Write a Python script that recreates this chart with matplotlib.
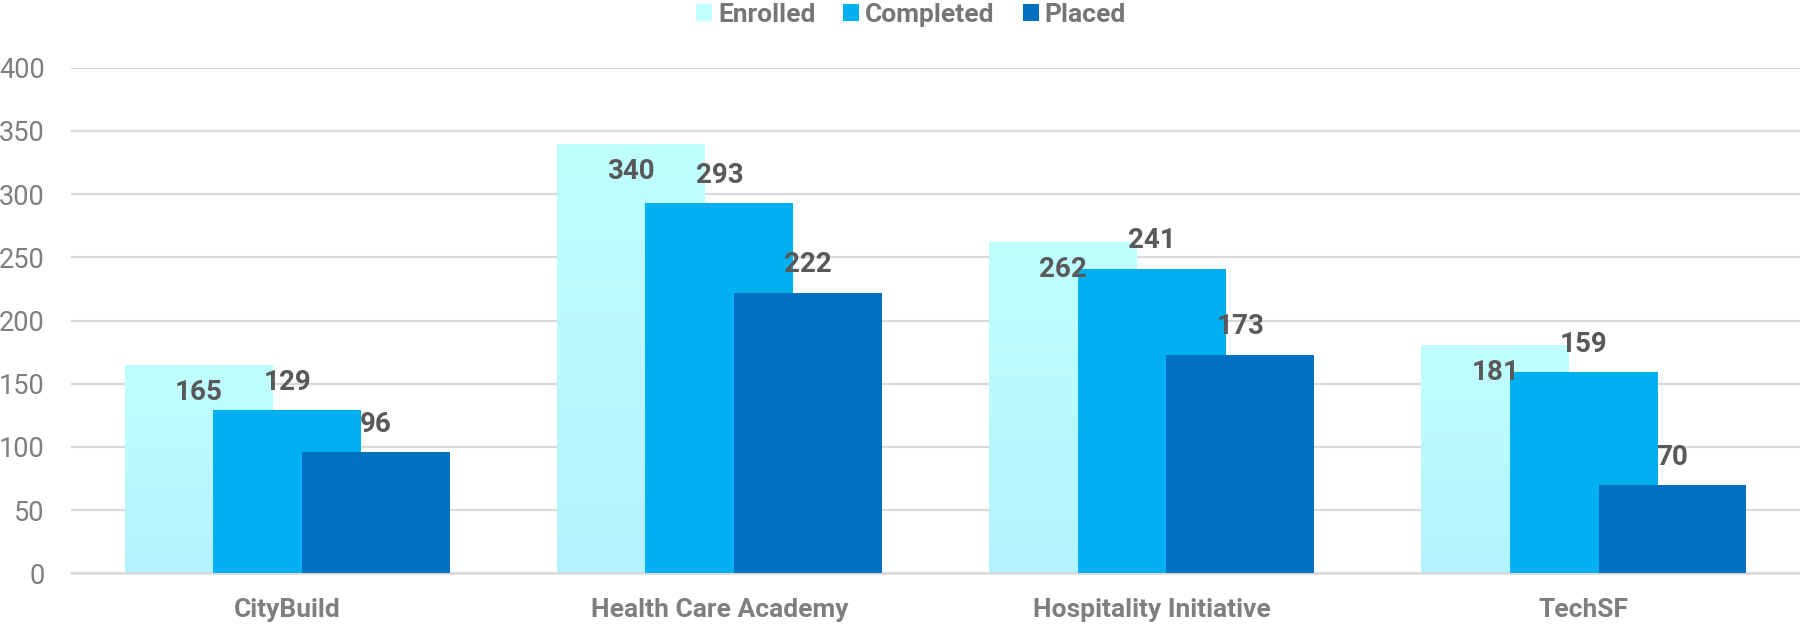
import matplotlib
matplotlib.use("Agg")
import matplotlib.pyplot as plt
import numpy as np
from matplotlib.colors import LinearSegmentedColormap
from matplotlib.patches import Patch

categories = ["CityBuild", "Health Care Academy", "Hospitality Initiative", "TechSF"]
series_names = ["Enrolled", "Completed", "Placed"]
enrolled = [165, 340, 262, 181]
completed = [129, 293, 241, 159]
placed = [96, 222, 173, 70]
y_ticks = [0, 50, 100, 150, 200, 250, 300, 350, 400]

plt.rcParams['font.family'] = ['Roboto', 'DejaVu Sans']

W, H = 1800, 624
fig = plt.figure(figsize=(W / 100, H / 100), dpi=100)
ax = fig.add_axes([71 / W, (H - 573.3) / H, 1 - 71 / W, (573.3 - 67.7) / H])

x = np.arange(len(categories))
bw = 0.342
off = 0.205
col_comp = "#00B0F0"
col_plac = "#0070C0"
col_enr_top = "#C0FFFF"
col_enr_bot = "#B4F2FF"

grad = LinearSegmentedColormap.from_list("g", [col_enr_bot, col_enr_top])

# Enrolled bars with gradient
enr_bars = ax.bar(x - off, enrolled, width=bw, color="none", edgecolor="none", zorder=2)
for b in enr_bars:
    x0, y0 = b.get_x(), b.get_y()
    w, h = b.get_width(), b.get_height()
    img = np.linspace(0, 1, 256).reshape(-1, 1)
    im = ax.imshow(img, cmap=grad, origin="lower", aspect="auto",
                   extent=[x0, x0 + w, y0, y0 + h], zorder=2)
    im.set_clip_path(b)

comp_bars = ax.bar(x, completed, width=bw, color=col_comp, zorder=3)
plac_bars = ax.bar(x + off, placed, width=bw, color=col_plac, zorder=4)

lab_kw = dict(ha="center", va="center", fontsize=20, fontweight="bold",
              color="#595959", zorder=10)
for xi, v in zip(x - off, enrolled):
    ax.annotate(str(v), (xi, v), xytext=(0, -20), textcoords="offset points", **lab_kw)
for xi, v in zip(x, completed):
    ax.annotate(str(v), (xi, v), xytext=(0, 20), textcoords="offset points", **lab_kw)
for xi, v in zip(x + off, placed):
    ax.annotate(str(v), (xi, v), xytext=(0, 20), textcoords="offset points", **lab_kw)

ax.set_xlim(-0.5, len(categories) - 0.5)
ax.set_ylim(0, 400)
ax.set_yticks(y_ticks)
ax.set_yticklabels([str(t) for t in y_ticks])
ax.set_xticks(x)
ax.set_xticklabels(categories, fontsize=19, fontweight="bold", color="#7F7F7F")
ax.tick_params(axis="y", length=0, pad=19, labelsize=19.5, labelcolor="#7F7F7F")
ax.tick_params(axis="x", length=0, pad=17.5)
ax.yaxis.grid(True, color="#D9D9D9", linewidth=1.6, zorder=0)
ax.set_axisbelow(True)
for s in ["top", "right", "left"]:
    ax.spines[s].set_visible(False)
ax.spines["bottom"].set_color("#D9D9D9")
ax.spines["bottom"].set_linewidth(1.8)
ax.patch.set_alpha(0)

handles = [Patch(facecolor=col_enr_top, edgecolor="none"),
           Patch(facecolor=col_comp, edgecolor="none"),
           Patch(facecolor=col_plac, edgecolor="none")]
leg = fig.legend(handles, series_names, loc="center", bbox_to_anchor=(911 / W, 1 - 15 / H),
                 ncol=3, frameon=False, handlelength=0.6, handleheight=0.6,
                 handletextpad=0.23, columnspacing=1.06, borderpad=0, borderaxespad=0,
                 prop={"family": "Roboto", "weight": "bold", "size": 19})
for t in leg.get_texts():
    t.set_color("#767676")

fig.savefig("out.png", dpi=100)
